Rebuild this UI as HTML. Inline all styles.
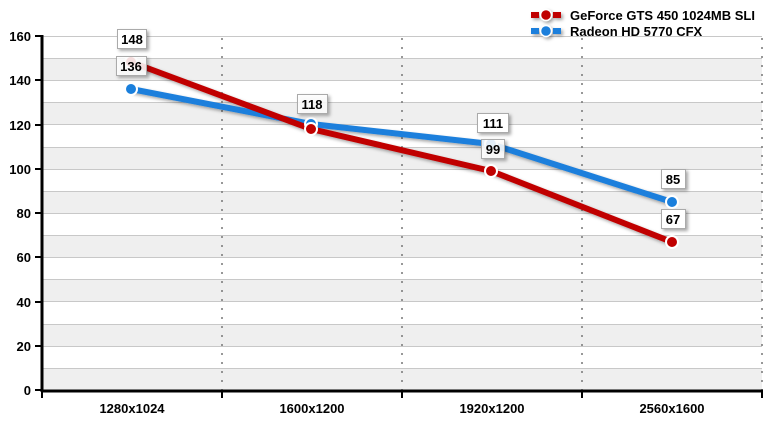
<!DOCTYPE html>
<html><head><meta charset="utf-8"><style>
html,body{margin:0;padding:0;background:#fff}
svg{display:block;font-family:"Liberation Sans",Arial,sans-serif;font-weight:bold}
</style></head><body>
<svg width="775" height="421" viewBox="0 0 775 421" xmlns="http://www.w3.org/2000/svg">
<defs>
<filter id="sh" x="-20%" y="-50%" width="140%" height="200%"><feDropShadow dx="2" dy="2" stdDeviation="1.5" flood-color="#000" flood-opacity="0.35"/></filter>
</defs>
<g fill="#efefef">
<rect x="42" y="368" width="720" height="22"/>
<rect x="42" y="324" width="720" height="22"/>
<rect x="42" y="279" width="720" height="22"/>
<rect x="42" y="235" width="720" height="22"/>
<rect x="42" y="191" width="720" height="22"/>
<rect x="42" y="147" width="720" height="22"/>
<rect x="42" y="102" width="720" height="22"/>
<rect x="42" y="58" width="720" height="22"/>
</g>
<g stroke="#c8c8c8" stroke-width="1">
<line x1="42" y1="36.5" x2="762" y2="36.5"/><line x1="42" y1="58.5" x2="762" y2="58.5"/>
<line x1="42" y1="80.5" x2="762" y2="80.5"/><line x1="42" y1="102.5" x2="762" y2="102.5"/>
<line x1="42" y1="124.5" x2="762" y2="124.5"/><line x1="42" y1="147.5" x2="762" y2="147.5"/>
<line x1="42" y1="169.5" x2="762" y2="169.5"/><line x1="42" y1="191.5" x2="762" y2="191.5"/>
<line x1="42" y1="213.5" x2="762" y2="213.5"/><line x1="42" y1="235.5" x2="762" y2="235.5"/>
<line x1="42" y1="257.5" x2="762" y2="257.5"/><line x1="42" y1="279.5" x2="762" y2="279.5"/>
<line x1="42" y1="301.5" x2="762" y2="301.5"/><line x1="42" y1="324.5" x2="762" y2="324.5"/>
<line x1="42" y1="346.5" x2="762" y2="346.5"/><line x1="42" y1="368.5" x2="762" y2="368.5"/>
</g>
<g stroke="#777" stroke-width="1.5" stroke-dasharray="2,7">
<line x1="222" y1="38" x2="222" y2="390"/><line x1="402" y1="38" x2="402" y2="390"/>
<line x1="582" y1="38" x2="582" y2="390"/><line x1="762" y1="38" x2="762" y2="390"/>
</g>
<g stroke="#000" stroke-width="3">
<line x1="42" y1="35" x2="42" y2="392"/>
<line x1="41" y1="391" x2="763" y2="391"/>
</g>
<g stroke="#000" stroke-width="2">
<line x1="35" y1="36" x2="42" y2="36"/><line x1="35" y1="80" x2="42" y2="80"/>
<line x1="35" y1="125" x2="42" y2="125"/><line x1="35" y1="169" x2="42" y2="169"/>
<line x1="35" y1="213" x2="42" y2="213"/><line x1="35" y1="257" x2="42" y2="257"/>
<line x1="35" y1="302" x2="42" y2="302"/><line x1="35" y1="346" x2="42" y2="346"/>
<line x1="35" y1="390" x2="42" y2="390"/>
<line x1="42" y1="391" x2="42" y2="398"/><line x1="222" y1="391" x2="222" y2="398"/>
<line x1="402" y1="391" x2="402" y2="398"/><line x1="582" y1="391" x2="582" y2="398"/>
<line x1="762" y1="391" x2="762" y2="398"/>
</g>
<g font-size="13" text-anchor="end" fill="#000">
<text x="31" y="41">160</text><text x="31" y="85">140</text><text x="31" y="130">120</text>
<text x="31" y="174">100</text><text x="31" y="218">80</text><text x="31" y="262">60</text>
<text x="31" y="307">40</text><text x="31" y="351">20</text><text x="31" y="395">0</text>
</g>
<g font-size="13" text-anchor="middle" fill="#000">
<text x="132" y="413">1280x1024</text><text x="312" y="413">1600x1200</text>
<text x="492" y="413">1920x1200</text><text x="672" y="413">2560x1600</text>
</g>
<g filter="url(#sh)">
<polyline points="131,89 311,124 491,144 672,202" fill="none" stroke="#1a7fdc" stroke-width="6" stroke-linejoin="round"/>
<polyline points="131,62 311,129 491,171 672,242" fill="none" stroke="#c00000" stroke-width="6" stroke-linejoin="round"/>
</g>
<g stroke="#fff" stroke-width="2">
<circle cx="131" cy="89" r="6" fill="#1a7fdc"/><circle cx="311" cy="124" r="6" fill="#1a7fdc"/>
<circle cx="491" cy="144" r="6" fill="#1a7fdc"/><circle cx="672" cy="202" r="6" fill="#1a7fdc"/>
<circle cx="131" cy="62" r="6" fill="#c00000"/><circle cx="311" cy="129" r="6" fill="#c00000"/>
<circle cx="491" cy="171" r="6" fill="#c00000"/><circle cx="672" cy="242" r="6" fill="#c00000"/>
</g>
<g font-size="13" text-anchor="middle" fill="#000">
<g filter="url(#sh)" fill="#fff" stroke="#aaa" stroke-width="1">
<rect x="117.5" y="29.5" width="29" height="19"/>
<rect x="116.5" y="56.5" width="30" height="19" fill-opacity="0.85"/>
<rect x="297.5" y="94.5" width="30" height="19" fill-opacity="0.85"/>
<rect x="477.5" y="113.5" width="31" height="19"/>
<rect x="481.5" y="139.5" width="23" height="19" fill-opacity="0.85"/>
<rect x="661.5" y="169.5" width="24" height="19"/>
<rect x="661.5" y="209.5" width="24" height="19"/>
</g>
<text x="132" y="44">148</text><text x="131" y="71">136</text>
<text x="312" y="109">118</text><text x="493" y="128">111</text>
<text x="493" y="154">99</text><text x="673" y="184">85</text><text x="673" y="224">67</text>
</g>
<g filter="url(#sh)">
<line x1="531" y1="15" x2="561" y2="15" stroke="#c00000" stroke-width="6" stroke-dasharray="8,3"/>
<circle cx="546" cy="15" r="5.5" fill="#c00000" stroke="#fff" stroke-width="1.5"/>
<line x1="531" y1="31" x2="561" y2="31" stroke="#1a7fdc" stroke-width="6" stroke-dasharray="8,3"/>
<circle cx="546" cy="31" r="5.5" fill="#1a7fdc" stroke="#fff" stroke-width="1.5"/>
</g>
<g font-size="13" fill="#000">
<text x="570" y="20">GeForce GTS 450 1024MB SLI</text>
<text x="570" y="36">Radeon HD 5770 CFX</text>
</g>
</svg>
</body></html>
